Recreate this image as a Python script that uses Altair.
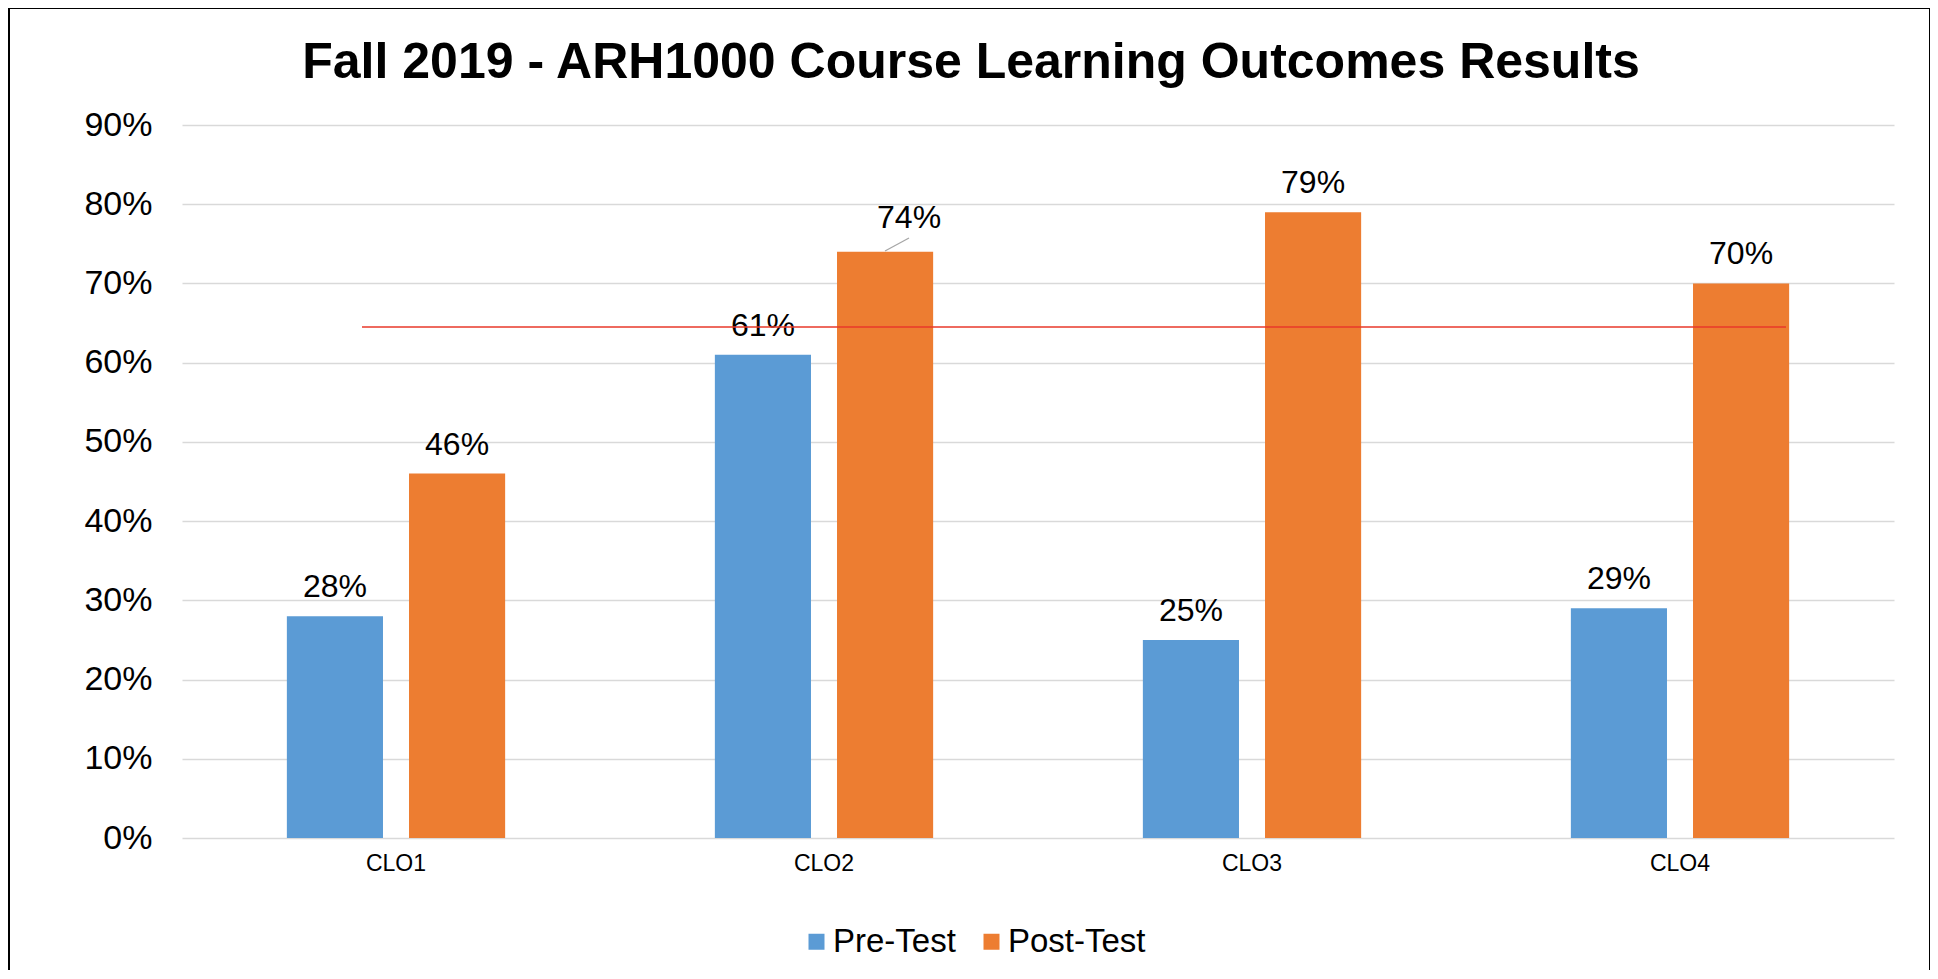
import altair as alt
import pandas as pd

# ---- data ----
categories = ["CLO1", "CLO2", "CLO3", "CLO4"]
series = ["Pre-Test", "Post-Test"]
pre_test = [0.28, 0.61, 0.25, 0.29]
post_test = [0.46, 0.74, 0.79, 0.70]
target = [0.645]
y_ticks = [0, 0.1, 0.2, 0.3, 0.4, 0.5, 0.6, 0.7, 0.8, 0.9]
title_text = "Fall 2019 - ARH1000 Course Learning Outcomes Results"
colors = ["#5B9BD5", "#ED7D31"]

rows = []
for c, a, b in zip(categories, pre_test, post_test):
    rows.append({"clo": c, "test": series[0], "value": a})
    rows.append({"clo": c, "test": series[1], "value": b})
df = pd.DataFrame(rows)

FONT = "Liberation Sans"
W, H = 1712, 713

x_enc = alt.X("clo:N", sort=categories,
              scale=alt.Scale(paddingInner=0.49, paddingOuter=0.245),
              axis=alt.Axis(title=None, labelAngle=0, labelFontSize=23, labelColor="#000000",
                            labelFont=FONT, ticks=False, domain=False, labelPadding=14, grid=False))
xo_enc = alt.XOffset("test:N", sort=series,
                     scale=alt.Scale(paddingInner=0.213, paddingOuter=0))
y_enc = alt.Y("value:Q",
              scale=alt.Scale(domain=[0, 0.9], nice=False, zero=True),
              axis=alt.Axis(title=None, format=".0%", values=y_ticks, labelFontSize=34,
                            labelFont=FONT, labelColor="#000000", labelPadding=30,
                            ticks=False, domain=False, grid=True, gridColor="#D9D9D9",
                            gridWidth=1.3))

base = alt.Chart(df)

bars = base.mark_bar().encode(
    x=x_enc, xOffset=xo_enc, y=y_enc,
    color=alt.Color("test:N", sort=series,
                    scale=alt.Scale(domain=series, range=colors),
                    legend=alt.Legend(title=None, orient="none", legendX=618, legendY=800,
                                      direction="horizontal", symbolType="square",
                                      symbolSize=256, symbolStrokeWidth=0,
                                      labelFontSize=33, labelFont=FONT, labelColor="#000000",
                                      labelOffset=0, columnPadding=19)),
)

is_moved = (alt.datum.clo == "CLO2") & (alt.datum.test == "Post-Test")

labels = base.mark_text(fontSize=32, font=FONT, color="#000000", baseline="alphabetic",
                        dy=-19).encode(
    x=alt.X("clo:N", sort=categories), xOffset=alt.XOffset("test:N", sort=series),
    y="value:Q", text=alt.Text("value:Q", format=".0%"),
).transform_filter(~is_moved)

moved_label = base.mark_text(fontSize=32, font=FONT, color="#000000", baseline="alphabetic",
                             dx=24, dy=-24).encode(
    x=alt.X("clo:N", sort=categories), xOffset=alt.XOffset("test:N", sort=series),
    y="value:Q", text=alt.Text("value:Q", format=".0%"),
).transform_filter(is_moved)

leader = alt.Chart(alt.Data(values=[{}])).mark_rule(color="#A6A6A6", strokeWidth=1.3).encode(
    x=alt.value(703), y=alt.value(126), x2=alt.value(727), y2=alt.value(113))

target_df = pd.DataFrame({"target": target})
target_line = alt.Chart(target_df).mark_rule(color="#E8392A", strokeWidth=1.7).encode(
    y=alt.Y("target:Q"), x=alt.value(180), x2=alt.value(1604))

title_mark = alt.Chart(alt.Data(values=[{"t": title_text}])).mark_text(
    font=FONT, fontSize=50, fontWeight="bold", color="#000000",
    align="center", baseline="alphabetic").encode(
    text="t:N", x=alt.value(789), y=alt.value(-47))

border = alt.Chart(alt.Data(values=[{}])).mark_rect(fill=None, fillOpacity=0, stroke="#000000",
                                                     strokeWidth=2).encode(
    x=alt.value(-173), x2=alt.value(1748), y=alt.value(-117), y2=alt.value(900))

chart = alt.layer(bars, labels, moved_label, leader, target_line, title_mark, border).properties(
    width=W, height=H,
    background="white",
    autosize=alt.AutoSizeParams(type="none"),
    padding={"left": 174, "top": 117, "right": 36, "bottom": 132},
).configure_view(stroke=None)

chart.save("out.html", embed_options={"renderer": "svg", "actions": False})
